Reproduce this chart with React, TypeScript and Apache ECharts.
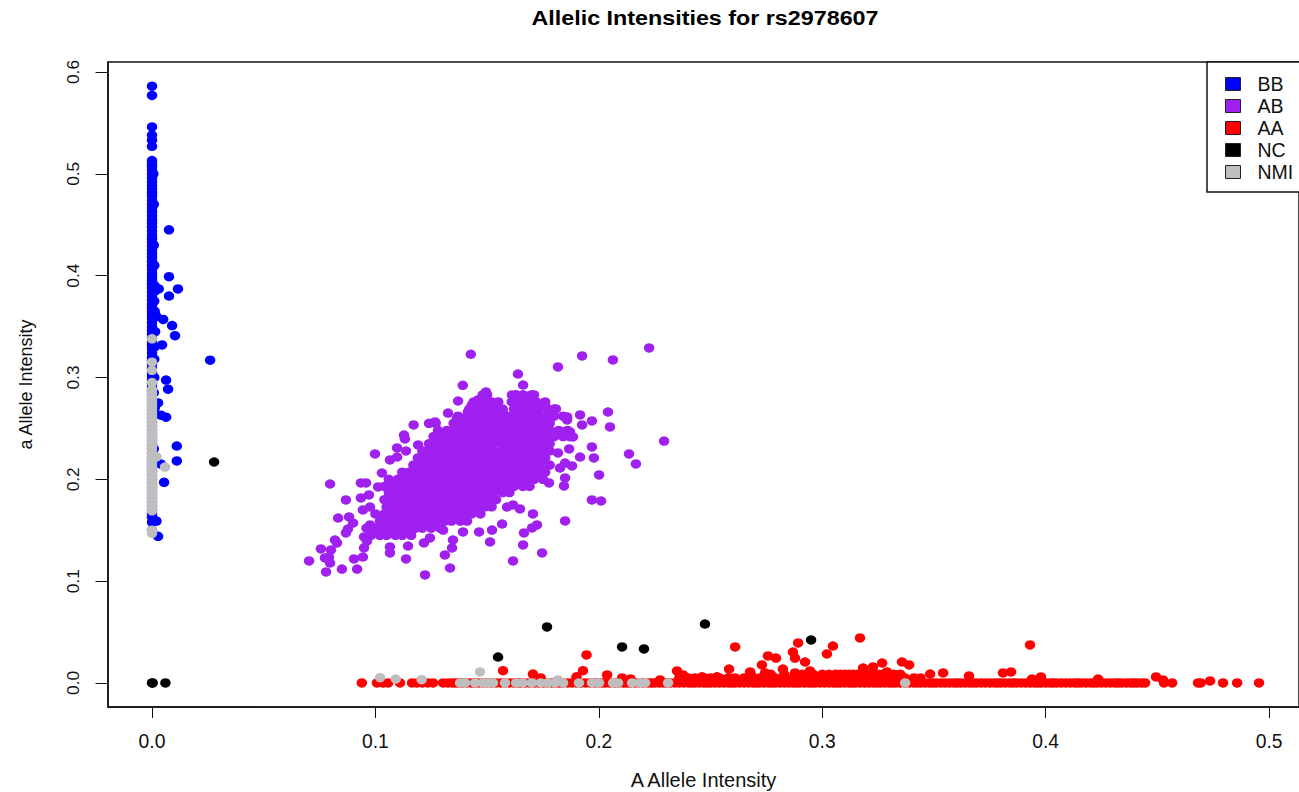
import React, { useEffect, useRef } from "react";
import * as echarts from "echarts";

// Values are read from the picture. Isolated points were read one by one. Inside the solid
// purple, red, blue and grey masses single points cannot be told apart, so those lists are hand
// estimates that follow the visible outline of each mass, not recovered measurements.

const xTicks = [0, 0.1, 0.2, 0.3, 0.4, 0.5];
const yTicks = [0, 0.1, 0.2, 0.3, 0.4, 0.5, 0.6];

const bbColumnY = [0.586, 0.577, 0.546, 0.538, 0.533, 0.527, 0.513, 0.507, 0.5, 0.492, 0.485, 0.478, 0.47, 0.463, 0.455, 0.448, 0.44, 0.433, 0.425, 0.418, 0.41, 0.402, 0.395, 0.388, 0.38, 0.372, 0.365, 0.358, 0.35, 0.343, 0.335, 0.328, 0.32, 0.313, 0.305, 0.298, 0.29, 0.283, 0.275, 0.268, 0.26, 0.252, 0.245, 0.238, 0.23, 0.222, 0.215, 0.208, 0.2, 0.192, 0.185, 0.178, 0.17, 0.163, 0.158, 0.15];
const bbColumnFillY = [0.5095, 0.5035, 0.496, 0.4885, 0.4815, 0.474, 0.4665, 0.459, 0.4515, 0.444, 0.4365, 0.429, 0.4215, 0.414, 0.406, 0.3985, 0.3915, 0.384, 0.376, 0.3685, 0.3615, 0.354, 0.3465, 0.339, 0.3315, 0.324, 0.3165, 0.309, 0.3015, 0.294, 0.2865, 0.279, 0.2715, 0.264, 0.256, 0.2485, 0.2415, 0.234, 0.226, 0.2185, 0.2115, 0.204, 0.196, 0.1885, 0.1815, 0.174, 0.1665];
const bbNearColumn = [[0.0006, 0.5], [0.0008, 0.47], [0.0008, 0.43], [0.001, 0.41], [0.0012, 0.39], [0.0014, 0.385], [0.001, 0.375], [0.0012, 0.365], [0.0016, 0.36], [0.002, 0.36], [0.0014, 0.345], [0.0012, 0.33], [0.001, 0.318], [0.001, 0.3], [0.0008, 0.285], [0.0012, 0.27], [0.0008, 0.23], [0.001, 0.16]];
const bbOutliers = [[0.0076, 0.445], [0.0076, 0.399], [0.0116, 0.387], [0.0076, 0.38], [0.003, 0.387], [0.005, 0.357], [0.009, 0.351], [0.0103, 0.341], [0.0045, 0.332], [0.026, 0.317], [0.0063, 0.2975], [0.0072, 0.2885], [0.0027, 0.275], [0.004, 0.263], [0.0063, 0.261], [0.0111, 0.2327], [0.0111, 0.218], [0.004, 0.215], [0.0054, 0.197], [0.002, 0.159], [0.0027, 0.144]];

const abCoreY = [0.283, 0.276, 0.269, 0.262, 0.255, 0.248, 0.242, 0.235, 0.228, 0.221, 0.214, 0.207, 0.2, 0.193, 0.187, 0.18, 0.173, 0.166, 0.159, 0.152, 0.145];
const abCoreX = [
  [0.148, 0.15, 0.163, 0.166, 0.17],
  [0.144, 0.148, 0.152, 0.155, 0.161, 0.165, 0.169, 0.172, 0.176],
  [0.142, 0.146, 0.15, 0.153, 0.157, 0.162, 0.166, 0.17, 0.173, 0.177, 0.18],
  [0.137, 0.141, 0.144, 0.148, 0.151, 0.155, 0.159, 0.162, 0.166, 0.169, 0.173, 0.177, 0.18, 0.184],
  [0.124, 0.127, 0.135, 0.139, 0.142, 0.146, 0.15, 0.153, 0.157, 0.16, 0.164, 0.168, 0.171, 0.175, 0.178],
  [0.128, 0.132, 0.135, 0.139, 0.142, 0.146, 0.15, 0.153, 0.157, 0.16, 0.164, 0.168, 0.171, 0.175, 0.178, 0.182, 0.186],
  [0.126, 0.13, 0.133, 0.137, 0.141, 0.144, 0.148, 0.151, 0.155, 0.159, 0.162, 0.166, 0.169, 0.173, 0.177, 0.18, 0.184, 0.187],
  [0.124, 0.128, 0.131, 0.135, 0.139, 0.142, 0.146, 0.149, 0.153, 0.157, 0.16, 0.164, 0.167, 0.171, 0.175, 0.178],
  [0.121, 0.124, 0.128, 0.132, 0.135, 0.139, 0.142, 0.146, 0.15, 0.153, 0.157, 0.16, 0.164, 0.168, 0.171, 0.175, 0.178],
  [0.119, 0.122, 0.126, 0.13, 0.133, 0.137, 0.14, 0.144, 0.148, 0.151, 0.155, 0.158, 0.162, 0.166, 0.169, 0.173, 0.176],
  [0.117, 0.121, 0.124, 0.128, 0.131, 0.135, 0.139, 0.142, 0.146, 0.149, 0.153, 0.157, 0.16, 0.164, 0.167, 0.171, 0.175, 0.178],
  [0.112, 0.115, 0.119, 0.122, 0.126, 0.13, 0.133, 0.137, 0.14, 0.144, 0.148, 0.151, 0.155, 0.158, 0.162, 0.166, 0.169, 0.173, 0.176],
  [0.106, 0.11, 0.113, 0.117, 0.121, 0.124, 0.128, 0.131, 0.135, 0.139, 0.142, 0.146, 0.149, 0.153, 0.157, 0.16, 0.164, 0.167, 0.171, 0.175],
  [0.104, 0.108, 0.112, 0.115, 0.119, 0.122, 0.126, 0.13, 0.133, 0.137, 0.14, 0.144, 0.148, 0.151, 0.155, 0.158, 0.162, 0.166, 0.169],
  [0.106, 0.11, 0.113, 0.117, 0.121, 0.124, 0.128, 0.131, 0.135, 0.139, 0.142, 0.146, 0.149, 0.153, 0.157, 0.16],
  [0.104, 0.107, 0.111, 0.115, 0.118, 0.122, 0.125, 0.129, 0.133, 0.136, 0.14, 0.143, 0.147, 0.151, 0.154],
  [0.105, 0.109, 0.113, 0.116, 0.12, 0.123, 0.127, 0.131, 0.134, 0.138, 0.141, 0.145, 0.149, 0.152],
  [0.1, 0.104, 0.107, 0.111, 0.114, 0.118, 0.122, 0.125, 0.129, 0.132, 0.136, 0.14, 0.143, 0.147],
  [0.102, 0.106, 0.109, 0.113, 0.116, 0.12, 0.124, 0.127, 0.131, 0.134, 0.138, 0.141],
  [0.096, 0.1, 0.103, 0.107, 0.111, 0.114, 0.118, 0.121, 0.125, 0.129],
  [0.098, 0.102, 0.105, 0.109, 0.112, 0.116],
];
const abFillY = [0.2725, 0.2655, 0.2585, 0.2515, 0.245, 0.2385, 0.2315, 0.2245, 0.2175, 0.2105, 0.2035, 0.1965, 0.19, 0.1835, 0.1765, 0.1695, 0.1625, 0.1555, 0.1485];
const abFillX = [
  [0.145, 0.149, 0.154, 0.163, 0.167, 0.172, 0.176],
  [0.144, 0.148, 0.153, 0.157, 0.164, 0.168, 0.173, 0.178],
  [0.139, 0.143, 0.148, 0.152, 0.157, 0.161, 0.165, 0.17, 0.174, 0.178],
  [0.137, 0.141, 0.146, 0.15, 0.154, 0.159, 0.163, 0.168, 0.172, 0.177],
  [0.13, 0.134, 0.139, 0.143, 0.148, 0.152, 0.156, 0.161, 0.165, 0.17, 0.174, 0.178, 0.183, 0.186],
  [0.128, 0.132, 0.137, 0.141, 0.146, 0.15, 0.154, 0.159, 0.163, 0.168, 0.172, 0.176],
  [0.126, 0.13, 0.135, 0.139, 0.143, 0.148, 0.152, 0.157, 0.161, 0.165, 0.17, 0.174, 0.177],
  [0.123, 0.127, 0.132, 0.136, 0.141, 0.145, 0.149, 0.154, 0.158, 0.163, 0.167, 0.171, 0.175],
  [0.121, 0.125, 0.13, 0.134, 0.138, 0.143, 0.147, 0.152, 0.156, 0.16, 0.165, 0.169, 0.174],
  [0.119, 0.123, 0.128, 0.132, 0.136, 0.141, 0.145, 0.15, 0.154, 0.158, 0.163, 0.167, 0.172, 0.175],
  [0.114, 0.118, 0.123, 0.127, 0.132, 0.136, 0.14, 0.145, 0.149, 0.154, 0.158, 0.162, 0.167, 0.171],
  [0.108, 0.112, 0.117, 0.121, 0.125, 0.13, 0.134, 0.139, 0.143, 0.147, 0.152, 0.156, 0.161, 0.165, 0.168],
  [0.108, 0.112, 0.117, 0.121, 0.125, 0.13, 0.134, 0.139, 0.143, 0.147, 0.152, 0.156],
  [0.107, 0.111, 0.116, 0.12, 0.124, 0.129, 0.133, 0.138, 0.142, 0.146, 0.151],
  [0.107, 0.111, 0.116, 0.12, 0.124, 0.129, 0.133, 0.138, 0.142, 0.146, 0.15],
  [0.107, 0.111, 0.116, 0.12, 0.124, 0.129, 0.133, 0.138, 0.142, 0.146],
  [0.104, 0.108, 0.113, 0.117, 0.121, 0.126, 0.13, 0.135, 0.139],
  [0.104, 0.108, 0.112, 0.117, 0.121, 0.126],
  [0.1, 0.104, 0.109, 0.113],
];
const abOutliers = [[0.1427, 0.3228], [0.1391, 0.2923], [0.137, 0.2769], [0.1325, 0.2651], [0.1459, 0.2779], [0.1432, 0.273], [0.1414, 0.2661], [0.1171, 0.2534], [0.1365, 0.2602], [0.1267, 0.2563], [0.1128, 0.2435], [0.1132, 0.2396], [0.1191, 0.2337], [0.1097, 0.2308], [0.1137, 0.2278], [0.0998, 0.2249], [0.1065, 0.219], [0.1097, 0.2219], [0.1029, 0.2062], [0.0935, 0.1964], [0.0958, 0.1964], [0.0797, 0.1954], [0.1012, 0.1925], [0.0868, 0.1797], [0.0935, 0.1817], [0.0971, 0.1846], [0.0944, 0.1699], [0.0976, 0.1728], [0.0833, 0.162], [0.0882, 0.163], [0.09, 0.1571], [0.0877, 0.1512], [0.0868, 0.1473], [0.0976, 0.1552], [0.0819, 0.1404], [0.0828, 0.1375], [0.0756, 0.1316], [0.0949, 0.1434], [0.0962, 0.1394], [0.0949, 0.1326], [0.0801, 0.1306], [0.0792, 0.1237], [0.0774, 0.1228], [0.0797, 0.1178], [0.0904, 0.1218], [0.0944, 0.1237], [0.0703, 0.1198], [0.085, 0.1119], [0.0779, 0.109], [0.0918, 0.1119], [0.1065, 0.1336], [0.1065, 0.1277], [0.1146, 0.1345], [0.1137, 0.1218], [0.1217, 0.1375], [0.1244, 0.1424], [0.1311, 0.1257], [0.1222, 0.1061], [0.1334, 0.1129], [0.1343, 0.1326], [0.1347, 0.1404], [0.1392, 0.1483], [0.1464, 0.1483], [0.1303, 0.1502], [0.2225, 0.329], [0.1925, 0.3211], [0.2063, 0.3172], [0.1817, 0.3103], [0.1638, 0.3034], [0.1661, 0.2926], [0.2041, 0.2661], [0.1916, 0.2632], [0.1858, 0.2612], [0.1858, 0.2583], [0.1969, 0.2573], [0.1925, 0.2534], [0.205, 0.2514], [0.2292, 0.2376], [0.1969, 0.2318], [0.2135, 0.2249], [0.2166, 0.2151], [0.1916, 0.2219], [0.1978, 0.221], [0.1817, 0.2259], [0.1867, 0.2298], [0.1849, 0.216], [0.188, 0.2131], [0.1826, 0.2111], [0.2001, 0.2043], [0.1849, 0.2013], [0.1844, 0.1935], [0.1777, 0.1964], [0.1969, 0.1797], [0.201, 0.1787], [0.1849, 0.1591], [0.1705, 0.166], [0.1647, 0.1709], [0.1616, 0.1748], [0.1589, 0.1728], [0.1723, 0.1552], [0.1701, 0.1522], [0.1665, 0.1473], [0.1661, 0.1355], [0.1746, 0.1277], [0.1616, 0.1198], [0.1567, 0.1561], [0.1522, 0.1502], [0.1513, 0.1385], [0.1611, 0.2828], [0.1638, 0.2809], [0.1683, 0.2818], [0.171, 0.2828], [0.1495, 0.2858], [0.1808, 0.2691], [0.1871, 0.2465], [0.1884, 0.2416], [0.184, 0.2465]];

const aaBaseX = [0.0939, 0.1007, 0.1034, 0.1057, 0.111, 0.1164, 0.1186, 0.121, 0.1235, 0.1258, 0.1303, 0.1325, 0.136, 0.139, 0.143, 0.146, 0.15, 0.154, 0.158, 0.162, 0.165, 0.169, 0.173, 0.177, 0.181, 0.184, 0.188, 0.192, 0.196, 0.2, 0.203, 0.207, 0.211, 0.214, 0.218, 0.222, 0.225, 0.229, 0.232, 0.236, 0.24, 0.243, 0.247, 0.25, 0.254, 0.258, 0.261, 0.265, 0.269, 0.272, 0.276, 0.279, 0.283, 0.287, 0.29, 0.294, 0.297, 0.301, 0.305, 0.308, 0.312, 0.315, 0.319, 0.323, 0.326, 0.33, 0.333, 0.337, 0.341, 0.344, 0.348, 0.351, 0.355, 0.359, 0.362, 0.366, 0.369, 0.373, 0.377, 0.38, 0.384, 0.387, 0.391, 0.395, 0.398, 0.402, 0.405, 0.409, 0.413, 0.416, 0.42, 0.423, 0.427, 0.431, 0.434, 0.438, 0.441, 0.4445, 0.453, 0.4566, 0.4682, 0.4694, 0.4794, 0.4857, 0.4955];
const aaBaseFillX = [0.1345, 0.1375, 0.141, 0.1445, 0.148, 0.152, 0.156, 0.16, 0.1635, 0.167, 0.171, 0.175, 0.179, 0.1825, 0.186, 0.19, 0.194, 0.198, 0.2015, 0.205, 0.209, 0.2125, 0.216, 0.22, 0.2235, 0.227, 0.2305, 0.234, 0.238, 0.2415, 0.245, 0.2485, 0.252, 0.256, 0.2595, 0.263, 0.267, 0.2705, 0.274, 0.2775, 0.281, 0.285, 0.2885, 0.292, 0.2955, 0.299, 0.303, 0.3065, 0.31, 0.3135, 0.317, 0.321, 0.3245, 0.328, 0.3315, 0.335, 0.339, 0.3425, 0.346, 0.3495, 0.353, 0.357, 0.3605, 0.364, 0.3675, 0.371, 0.375, 0.3785, 0.382, 0.3855, 0.389, 0.393, 0.3965, 0.4, 0.4035, 0.407, 0.411, 0.4145, 0.418, 0.4215, 0.425, 0.429, 0.4325, 0.436, 0.4395, 0.443];
const aaLowX = [0.236, 0.24, 0.243, 0.247, 0.25, 0.254, 0.258, 0.261, 0.265, 0.269, 0.272, 0.276, 0.279, 0.283, 0.287, 0.29, 0.294, 0.297, 0.301, 0.305, 0.308, 0.312, 0.315, 0.319, 0.323, 0.326, 0.33, 0.333, 0.337, 0.341, 0.344];
const aaUpperX = [0.268, 0.277, 0.283, 0.291, 0.296, 0.3, 0.303, 0.306, 0.308, 0.31, 0.312, 0.314, 0.316, 0.318, 0.32, 0.321, 0.323, 0.325, 0.327, 0.328, 0.33, 0.332, 0.335];
const aaOutliers = [[0.1571, 0.0121], [0.1705, 0.0088], [0.174, 0.0049], [0.1945, 0.0275], [0.1929, 0.0121], [0.19, 0.006], [0.2037, 0.0079], [0.2104, 0.0049], [0.2142, 0.004], [0.2274, 0.003], [0.235, 0.0118], [0.2377, 0.0079], [0.2462, 0.006], [0.2529, 0.006], [0.2583, 0.0137], [0.261, 0.0354], [0.2677, 0.0108], [0.273, 0.0177], [0.2757, 0.0265], [0.2793, 0.0245], [0.2744, 0.0098], [0.2824, 0.0137], [0.2878, 0.0245], [0.2869, 0.0304], [0.2892, 0.0393], [0.2923, 0.0206], [0.2945, 0.0118], [0.2878, 0.0098], [0.3021, 0.0285], [0.3048, 0.0363], [0.3169, 0.0442], [0.3183, 0.0147], [0.3227, 0.0157], [0.3268, 0.0196], [0.3357, 0.0206], [0.3389, 0.0177], [0.329, 0.0108], [0.333, 0.008], [0.3483, 0.0088], [0.3541, 0.0098], [0.3657, 0.0069], [0.3809, 0.0098], [0.3845, 0.0108], [0.393, 0.0373], [0.3939, 0.0039], [0.3979, 0.0059], [0.4235, 0.0039], [0.4494, 0.0059], [0.4525, 0.003], [0.4736, 0.002]];

const ncPoints = [[0, 0], [0.0003, 0], [0.006, 0], [0.0278, 0.217], [0.1549, 0.0255], [0.1768, 0.055], [0.2104, 0.0354], [0.2202, 0.0334], [0.2475, 0.0579], [0.295, 0.0422]];

const nmiColumnY = [0.338, 0.315, 0.307, 0.295, 0.288, 0.281, 0.275, 0.268, 0.262, 0.255, 0.249, 0.242, 0.236, 0.229, 0.222, 0.216, 0.209, 0.203, 0.196, 0.19, 0.183, 0.177, 0.169, 0.15, 0.147];
const nmiColumnFillY = [0.2845, 0.278, 0.2715, 0.265, 0.2585, 0.252, 0.2455, 0.239, 0.2325, 0.2255, 0.219, 0.2125, 0.206, 0.1995, 0.193, 0.1865, 0.18, 0.173];
const nmiBaseX = [0.1379, 0.1401, 0.1446, 0.1482, 0.1504, 0.1526, 0.158, 0.163, 0.166, 0.17, 0.174, 0.1772, 0.1804, 0.184, 0.1911, 0.197, 0.2001, 0.2064, 0.2086, 0.2149, 0.2184, 0.2207, 0.231, 0.3371];
const nmiOther = [[0.0058, 0.212], [0.002, 0.222], [0.1021, 0.0052], [0.1091, 0.0039], [0.1207, 0.0032], [0.1468, 0.0108], [0.1817, 0.003]];

const legendNames = ["BB", "AB", "AA", "NC", "NMI"];
const colours = ["#0000FF", "#A020F0", "#FF0000", "#000000", "#BEBEBE"];

const bbData = [...bbColumnY.map((y) => [0, y]), ...bbColumnFillY.map((y) => [0, y]), ...bbNearColumn, ...bbOutliers];
const abData = [
  ...abCoreY.flatMap((y, i) => abCoreX[i].map((x) => [x, y])),
  ...abFillY.flatMap((y, i) => abFillX[i].map((x) => [x, y])),
  ...abOutliers,
];
const aaData = [
  ...aaBaseX.map((x) => [x, 0]),
  ...aaBaseFillX.map((x) => [x, 0]),
  ...aaLowX.map((x) => [x, 0.005]),
  ...aaUpperX.map((x) => [x, 0.0085]),
  ...aaOutliers,
];
const nmiData = [...nmiColumnY.map((y) => [0, y]), ...nmiColumnFillY.map((y) => [0, y]), ...nmiBaseX.map((x) => [x, 0]), ...nmiOther];
const seriesData = [bbData, abData, aaData, ncPoints, nmiData];

const font = "Liberation Sans";
const ink = "#111111";

export default function App() {
  const ref = useRef<HTMLDivElement>(null);
  useEffect(() => {
    const chart = echarts.init(ref.current!, undefined, { renderer: "svg" });
    const axisBase = {
      type: "value" as const,
      nameLocation: "middle" as const,
      splitLine: { show: false },
      axisLine: { show: true, onZero: false, lineStyle: { color: ink, width: 1.5 } },
    };
    chart.setOption({
      animation: false,
      backgroundColor: "#ffffff",
      graphic: [
        {
          type: "text",
          x: 705,
          y: 18,
          scaleX: 1.11,
          z: 30,
          style: {
            text: "Allelic Intensities for rs2978607",
            fontFamily: font,
            fontSize: 21,
            fontWeight: "bold",
            fill: "#000",
            textAlign: "center",
            textVerticalAlign: "middle",
          },
        },
      ],
      grid: {
        left: 108,
        right: 0,
        top: 62,
        bottom: 85,
        outerBoundsMode: "none",
        show: true,
        borderColor: ink,
        borderWidth: 1.5,
        backgroundColor: "transparent",
      },
      xAxis: {
        ...axisBase,
        min: -0.0197,
        max: 0.5134,
        name: "A Allele Intensity",
        nameGap: 63,
        nameTextStyle: { fontFamily: font, fontSize: 20, color: ink },
        axisTick: { show: true, length: 11, customValues: xTicks, lineStyle: { color: ink, width: 1 } },
        axisLabel: { customValues: xTicks, fontFamily: font, fontSize: 19.3, color: ink, margin: 25, formatter: (v: number) => v.toFixed(1) },
      },
      yAxis: {
        ...axisBase,
        min: -0.0236,
        max: 0.6098,
        name: "a Allele Intensity",
        nameGap: 73,
        nameTextStyle: { fontFamily: font, fontSize: 18, color: ink },
        axisTick: { show: true, length: 12.5, customValues: yTicks, lineStyle: { color: ink, width: 1 } },
        axisLabel: { customValues: yTicks, rotate: 90, fontFamily: font, fontSize: 17.3, color: ink, margin: 27, formatter: (v: number) => v.toFixed(1) },
      },
      legend: {
        left: 1207,
        top: 62,
        orient: "vertical",
        align: "left",
        icon: "rect",
        itemWidth: 15,
        itemHeight: 13,
        itemGap: 2,
        padding: [12, 10, 10, 18],
        backgroundColor: "#ffffff",
        borderColor: ink,
        borderWidth: 1.5,
        selectedMode: false,
        z: 20,
        data: legendNames,
        itemStyle: { borderColor: "#222", borderWidth: 1 },
        textStyle: { fontFamily: font, fontSize: 19.5, color: ink, padding: [0, 0, 0, 12] },
      },
      series: legendNames.map((name, i) => ({
        name,
        type: "scatter",
        symbol: "circle",
        symbolSize: [10.5, 9.5],
        silent: true,
        itemStyle: { color: colours[i], opacity: 1 },
        data: seriesData[i],
        z: 2 + i,
      })),
    });
    return () => chart.dispose();
  }, []);
  return <div ref={ref} style={{ position: "absolute", left: 0, top: 0, width: 1299, height: 792 }} />;
}
